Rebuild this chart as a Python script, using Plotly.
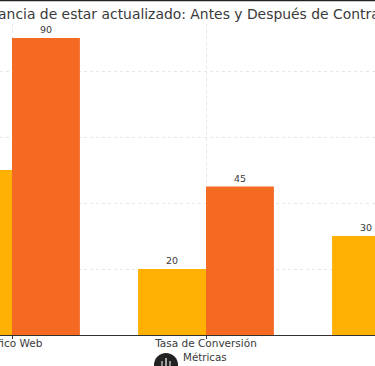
import plotly.graph_objects as go

categories = ["Tráfico Web", "Tasa de Conversión", " "]
antes = [50, 20, 30]
despues = [90, 45, None]
labels_antes = ["", "20", "30"]
labels_despues = ["90", "45", ""]
title_text = "Importancia de estar actualizado: Antes y Después de Contratar"

W, H = 375, 366
L, R, T, B = 0, 0, 24, 31
pw, ph = W - L - R, H - T - B
YEL, ORG = "#FFB000", "#F46A22"
TXT = "#3A3A3A"
FONT = "DejaVu Sans"

def px(x):
    return x / pw
def py(y):
    return (H - B - y) / ph

fig = go.Figure()
fig.add_bar(x=categories, y=antes, name="Antes", marker=dict(color=YEL, line_width=0),
            text=labels_antes, textposition="outside", cliponaxis=False,
            textfont=dict(size=9.5, color=TXT, family=FONT))
fig.add_bar(x=categories, y=despues, name="Después", marker=dict(color=ORG, line_width=0),
            text=labels_despues, textposition="outside", cliponaxis=False,
            textfont=dict(size=9.5, color=TXT, family=FONT))

shapes = [
    dict(type="line", xref="paper", yref="paper", x0=0, x1=1, y0=py(0.5), y1=py(0.5),
         line=dict(color="#222222", width=1.5)),
    dict(type="circle", xref="paper", yref="paper", x0=px(154), x1=px(178), y0=py(353), y1=py(377),
         fillcolor="#222222", line_width=0),
    dict(type="line", xref="paper", yref="paper", x0=px(166), x1=px(166), y0=py(358), y1=py(366),
         line=dict(color="white", width=1.2)),
    dict(type="line", xref="paper", yref="paper", x0=px(162), x1=px(162), y0=py(361), y1=py(366),
         line=dict(color="white", width=1)),
    dict(type="line", xref="paper", yref="paper", x0=px(170), x1=px(170), y0=py(361), y1=py(366),
         line=dict(color="white", width=1)),
]

fig.update_layout(
    width=W, height=H, autosize=False,
    margin=dict(l=L, r=R, t=T, b=B, pad=0),
    paper_bgcolor="white", plot_bgcolor="white",
    barmode="group", bargap=0.3, bargroupgap=0,
    showlegend=False,
    font=dict(family=FONT, color=TXT, size=10.5),
    shapes=shapes,
    annotations=[
        dict(text=title_text, xref="paper", yref="paper", xanchor="left", yanchor="middle",
             x=px(-50), y=py(13.5), showarrow=False, align="left",
             font=dict(size=13.9, color=TXT, family=FONT)),
        dict(text="Métricas", xref="paper", yref="paper", xanchor="center", yanchor="middle",
             x=px(205), y=py(356.5), showarrow=False,
             font=dict(size=10.3, color=TXT, family=FONT)),
    ],
)
fig.update_xaxes(
    type="category", range=[-12 / 194, 363 / 194],
    showgrid=True, gridcolor="#E6E6E6", griddash="dot", gridwidth=1,
    ticks="outside", ticklen=3, tickcolor="#333333", tickwidth=1,
    showline=True, linecolor="#333333", linewidth=1,
    tickfont=dict(size=10.5, color=TXT, family=FONT), automargin=False,
    tickangle=0, ticklabelstandoff=-5,
)
fig.update_yaxes(
    range=[0, 311 / 3.3], tickvals=[0, 20, 40, 60, 80], showticklabels=False,
    showgrid=True, gridcolor="#E6E6E6", griddash="dot", gridwidth=1,
    zeroline=False, ticks="", automargin=False,
)
fig.write_html("out.html", config={"displayModeBar": False},
               post_script="document.body.style.margin='0';document.body.style.overflow='hidden';")
